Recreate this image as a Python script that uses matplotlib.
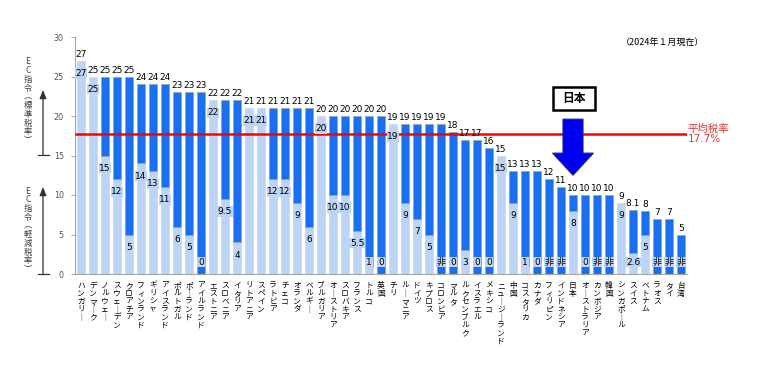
import numpy as np
import matplotlib
matplotlib.use("Agg")
import matplotlib.pyplot as plt
import matplotlib.patches as mpatches
from matplotlib.lines import Line2D

plt.rcParams['font.family'] = ['DejaVu Sans', 'Noto Sans CJK JP']

# data (2024/1)
countries = ["ハンガリー", "デンマーク", "ノルウェー", "スウェーデン", "クロアチア",
             "フィンランド", "ギリシャ", "アイスランド", "ポルトガル", "ポーランド",
             "アイルランド", "エストニア", "スロベニア", "イタリア", "リトアニア",
             "スペイン", "ラトビア", "チェコ", "オランダ", "ベルギー",
             "ブルガリア", "オーストリア", "スロバキア", "フランス", "トルコ",
             "英国", "チリ", "ルーマニア", "ドイツ", "キプロス",
             "コロンビア", "マルタ", "ルクセンブルク", "イスラエル", "メキシコ",
             "ニュージーランド", "中国", "コスタリカ", "カナダ", "フィリピン",
             "インドネシア", "日本", "オーストラリア", "カンボジア", "韓国",
             "シンガポール", "スイス", "ベトナム", "ラオス", "タイ", "台湾"]
standard = [27, 25, 25, 25, 25, 24, 24, 24, 23, 23,
            23, 22, 22, 22, 21, 21, 21, 21, 21, 21,
            20, 20, 20, 20, 20, 20, 19, 19, 19, 19,
            19, 18, 17, 17, 16, 15, 13, 13, 13, 12,
            11, 10, 10, 10, 10, 9, 8.1, 8, 7, 7, 5]
# None = 非課税
reduced = [27, 25, 15, 12, 5, 14, 13, 11, 6, 5,
           0, 22, 9.5, 4, 21, 21, 12, 12, 9, 6,
           20, 10, 10, 5.5, 1, 0, 19, 9, 7, 5,
           None, 0, 3, 0, 0, 15, 9, 1, 0, None,
           None, 8, 0, None, None, 9, 2.6, 5, None, None, None]
avg_rate = 17.7
japan = "日本"

DARK = '#1a6ff0'
LIGHT = '#bcd4f6'
JP = ['Noto Sans CJK JP']

fig = plt.figure(figsize=(7.6, 3.66), dpi=100)
W, H = 760.0, 366.0
ax = fig.add_axes([75 / W, 1 - 274 / H, 612 / W, 237 / H])

x = np.arange(len(countries))
std = np.array(standard, dtype=float)
red = np.array([0 if r is None else r for r in reduced], dtype=float)
bw = 0.66

ax.bar(x, red, width=bw, color=LIGHT, edgecolor='#cfd8e4', linewidth=0.5, zorder=2)
m = std - red > 0
ax.bar(x[m], (std - red)[m], bottom=red[m], width=bw, color=DARK,
       edgecolor='#9aa6b8', linewidth=0.6, zorder=2)

for i in x:
    ax.text(i, std[i] + 0.25, f"{std[i]:g}", ha='center', va='bottom', fontsize=6.5, zorder=5)
    lab = "非" if reduced[i] is None else f"{reduced[i]:g}"
    yy = max(red[i] - 1.6, 1.5)
    ax.text(i, yy, lab, ha='center', va='center', fontsize=6.5, zorder=5,
            bbox=dict(boxstyle='square,pad=0.08', fc=LIGHT, ec='none'))

# vertical (tategaki) country names, one glyph per row
for i, name in enumerate(countries):
    for k, ch in enumerate(name.replace("ー", "｜")):
        ax.annotate(ch, xy=(i, 0), xycoords=('data', 'axes fraction'),
                    xytext=(0, -12 - k * 7.9), textcoords='offset pixels',
                    ha='center', va='center', fontsize=5.6, family=JP)

# average line
ax.plot([-0.4, len(x) - 0.6], [avg_rate, avg_rate], color='#ff0000', lw=1.8, zorder=4)
ax.text(len(x) - 0.45, avg_rate, f"平均税率\n{avg_rate}%", ha='left', va='center',
        color='#e53935', fontsize=7.5, linespacing=1.05, clip_on=False)

# Japan marker
ji = countries.index(japan)
ax.add_patch(mpatches.FancyArrow(ji, 19.6, 0, -7.1, width=1.67, head_width=3.4,
                                 head_length=2.8, length_includes_head=True,
                                 fc='#0000f0', ec='#20208a', lw=0.8, zorder=6))
ax.add_patch(mpatches.Rectangle((ji - 1.67, 20.8), 3.5, 2.9, fc='white', ec='black',
                                lw=1.8, zorder=6))
ax.text(ji + 0.08, 22.25, "日本", ha='center', va='center', fontsize=8.5,
        fontweight='bold', zorder=7)

ax.set_xlim(-0.5, len(x) - 0.5)
ax.set_ylim(0, 30)
ax.set_yticks(range(0, 31, 5))
ax.set_xticks([])
ax.tick_params(axis='y', length=3, width=0.6, labelsize=5.8, colors='#9a9a9a',
               labelcolor='#555555', pad=5)
for s in ['top', 'right']:
    ax.spines[s].set_visible(False)
for s in ['left', 'bottom']:
    ax.spines[s].set_color('#a6a6a6')
    ax.spines[s].set_linewidth(0.8)

fig.text(662 / W, 1 - 43 / H, "（2024年１月現在）", ha='center', va='center', fontsize=6.5,
         family=JP)

# left side EC notes
up_txt = "EC指令︵標準税率︶"
lo_txt = "EC指令︵軽減税率︶"
for top, txt in [(62, up_txt), (191, lo_txt)]:
    for k, ch in enumerate(txt):
        fig.text(28 / W, 1 - (top + k * 8.7) / H, ch, ha='center', va='center',
                 fontsize=6, color='#404040', family=JP)
for y0, y1 in [(155, 90), (274, 187)]:
    fig.add_artist(Line2D([38 / W, 49 / W], [1 - y0 / H, 1 - y0 / H], color='#303030', lw=0.9))
    ax.annotate('', xy=(43 / W, 1 - y1 / H), xytext=(43 / W, 1 - y0 / H),
                xycoords='figure fraction', textcoords='figure fraction',
                arrowprops=dict(arrowstyle='-|>,head_length=0.5,head_width=0.2',
                                color='#303030', lw=0.9, shrinkA=0, shrinkB=0))

fig.savefig("out.png", dpi=100)
